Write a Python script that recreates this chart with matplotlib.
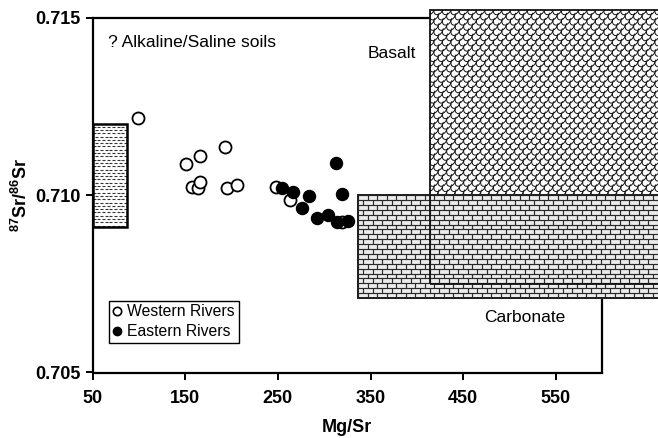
import numpy as np
import matplotlib
matplotlib.use("Agg")
import matplotlib.pyplot as plt
from matplotlib.patches import Rectangle
from matplotlib.collections import LineCollection
from matplotlib.lines import Line2D

plt.rcParams['font.family'] = ['Liberation Sans', 'DejaVu Sans']
plt.rcParams['mathtext.fontset'] = 'custom'
plt.rcParams['mathtext.rm'] = 'Liberation Sans'
plt.rcParams['mathtext.bf'] = 'Liberation Sans:bold'

# ---- data ----
western_mgsr = [99, 151, 166, 193, 157, 164, 166, 195, 206, 248, 263, 319]
western_sr = [0.71217, 0.71088, 0.71112, 0.71135, 0.71024, 0.71020, 0.71038,
              0.71020, 0.71030, 0.71024, 0.70986, 0.70925]
eastern_mgsr = [254, 266, 284, 276, 292, 304, 314, 326, 313, 319]
eastern_sr = [0.71021, 0.71008, 0.70998, 0.70965, 0.70935, 0.70944, 0.70925,
              0.70927, 0.71090, 0.71003]

# source fields: (Mg/Sr min, Sr min, Mg/Sr max, Sr max)
alkaline_field = [50, 0.7091, 87, 0.7120]
basalt_field = [414, 0.7075, 700, 0.71523]
carbonate_field = [337, 0.7071, 700, 0.7100]

x_ticks = [50, 150, 250, 350, 450, 550]
y_ticks = [0.705, 0.710, 0.715]
y_tick_labels = ['0.705', '0.710', '0.715']

# ---- figure ----
W, H = 658, 438
fig = plt.figure(figsize=(W / 100, H / 100), dpi=100)
L, R, T, B = 92.7, 602, 18, 372.5
ax = fig.add_axes([L / W, 1 - B / H, (R - L) / W, (B - T) / H])
ax.set_xlim(50, 600)
ax.set_ylim(0.705, 0.715)

for s in ax.spines.values():
    s.set_linewidth(1.6)
ax.set_xticks(x_ticks)
ax.set_xticklabels([str(t) for t in x_ticks])
ax.set_yticks(y_ticks)
ax.set_yticklabels(y_tick_labels)
ax.tick_params(axis='both', direction='out', length=5, width=1.4,
               labelsize=13)
ax.tick_params(axis='x', pad=7.5)
ax.tick_params(axis='y', pad=4)
for lab in ax.get_xticklabels() + ax.get_yticklabels():
    lab.set_fontweight('bold')

ax.set_xlabel('Mg/Sr', fontsize=13, fontweight='bold')
ax.xaxis.set_label_coords(0.5, -0.13)
fig.text(21 / W, 1 - 195 / H, r'$\mathbf{{}^{87}Sr/{}^{86}Sr}$',
         rotation=90, ha='center', va='center', fontsize=13)


def px_box(f):
    p0 = ax.transData.transform((f[0], f[1]))
    p1 = ax.transData.transform((f[2], f[3]))
    return p0[0], p0[1], p1[0], p1[1]


def add_pattern(segs, rect, color='#222222', lw=0.7, z=3.2):
    lc = LineCollection(segs, colors=color, linewidths=lw, transform=None,
                        zorder=z)
    ax.add_collection(lc)
    lc.set_clip_on(True)
    lc.set_clip_path(rect)
    return lc


def rect_from(f, **kw):
    r = Rectangle((f[0], f[1]), f[2] - f[0], f[3] - f[1], clip_on=False, **kw)
    ax.add_patch(r)
    return r


# basalt field (fill + scales pattern)
bas_fill = rect_from(basalt_field, facecolor='white', edgecolor='none', zorder=3)
X0, Y0, X1, Y1 = px_box(basalt_field)
segs = []
w, h = 8.5, 5.2
th = np.linspace(np.pi * 0.85, np.pi * 2.0, 9)
j = 0
y = Y1
while y > Y0 - 2 * h:
    x = X0 + (j % 2) * w / 2 - w
    while x < X1 + w:
        xs = x + w / 2 * np.cos(th) + 1.2 * np.sin(th)
        ys = y + h * 0.95 * np.sin(th)
        segs.append(np.column_stack([xs, ys]))
        x += w
    y -= h
    j += 1
add_pattern(segs, bas_fill, color='#111111', lw=0.7, z=3.1)

# carbonate field (fill + brick pattern)
carb_fill = rect_from(carbonate_field, facecolor='#ececec', edgecolor='#222222',
                      linewidth=1.4, zorder=3.3)
X0, Y0, X1, Y1 = px_box(carbonate_field)
segs = []
bh, bw = 4.9, 9.5
j = 0
y = Y0
while y < Y1 + bh:
    segs.append([(X0, y), (X1, y)])
    x = X0 + (j % 2) * bw / 2
    while x < X1:
        segs.append([(x, y), (x, y + bh)])
        x += bw
    y += bh
    j += 1
add_pattern(segs, carb_fill, color='#2a2a2a', lw=0.85, z=3.4)
rect_from(carbonate_field, facecolor='none', edgecolor='#222222',
          linewidth=1.4, zorder=3.5)
rect_from(basalt_field, facecolor='none', edgecolor='#111111',
          linewidth=1.3, zorder=3.6)

# alkaline/saline field
alk_fill = rect_from(alkaline_field, facecolor='white', edgecolor='none', zorder=3)
X0, Y0, X1, Y1 = px_box(alkaline_field)
segs = []
rh, dl, gap = 3.3, 3.0, 1.8
j = 0
y = Y0 + 1.5
while y < Y1:
    x = X0 + (j % 2) * (dl + gap) / 2
    while x < X1:
        segs.append([(x, y), (x + dl, y)])
        x += dl + gap
    y += rh
    j += 1
add_pattern(segs, alk_fill, color='#333333', lw=0.8, z=3.1)
rect_from(alkaline_field, facecolor='none', edgecolor='black',
          linewidth=1.8, zorder=3.6)

# data points
ax.scatter(western_mgsr, western_sr, s=75, facecolors='white',
           edgecolors='black', linewidths=1.3, zorder=5)
ax.scatter(eastern_mgsr, eastern_sr, s=75, facecolors='black',
           edgecolors='black', linewidths=1.0, zorder=6)

# annotations
ax.text(66.5, 0.71432, '? Alkaline/Saline soils', fontsize=12.5,
        ha='left', va='center', zorder=7)
ax.text(373.4, 0.71401, 'Basalt', fontsize=12.5, ha='center', va='center',
        zorder=7)
ax.text(516.3, 0.70654, 'Carbonate', fontsize=12.5, ha='center', va='center',
        zorder=7)

handles = [
    Line2D([], [], marker='o', linestyle='none', markerfacecolor='white',
           markeredgecolor='black', markersize=6, markeredgewidth=1.2),
    Line2D([], [], marker='o', linestyle='none', markerfacecolor='black',
           markeredgecolor='black', markersize=6),
]
leg = ax.legend(handles, ['Western Rivers', 'Eastern Rivers'],
                loc='lower left', bbox_to_anchor=(0.032, 0.083),
                borderaxespad=0, fontsize=11.3, handlelength=0.5,
                handletextpad=0.4, borderpad=0.25, labelspacing=0.3,
                fancybox=False, framealpha=1, edgecolor='black')
leg.get_frame().set_linewidth(1.0)
leg.set_zorder(8)

fig.savefig('out.png', dpi=100)
